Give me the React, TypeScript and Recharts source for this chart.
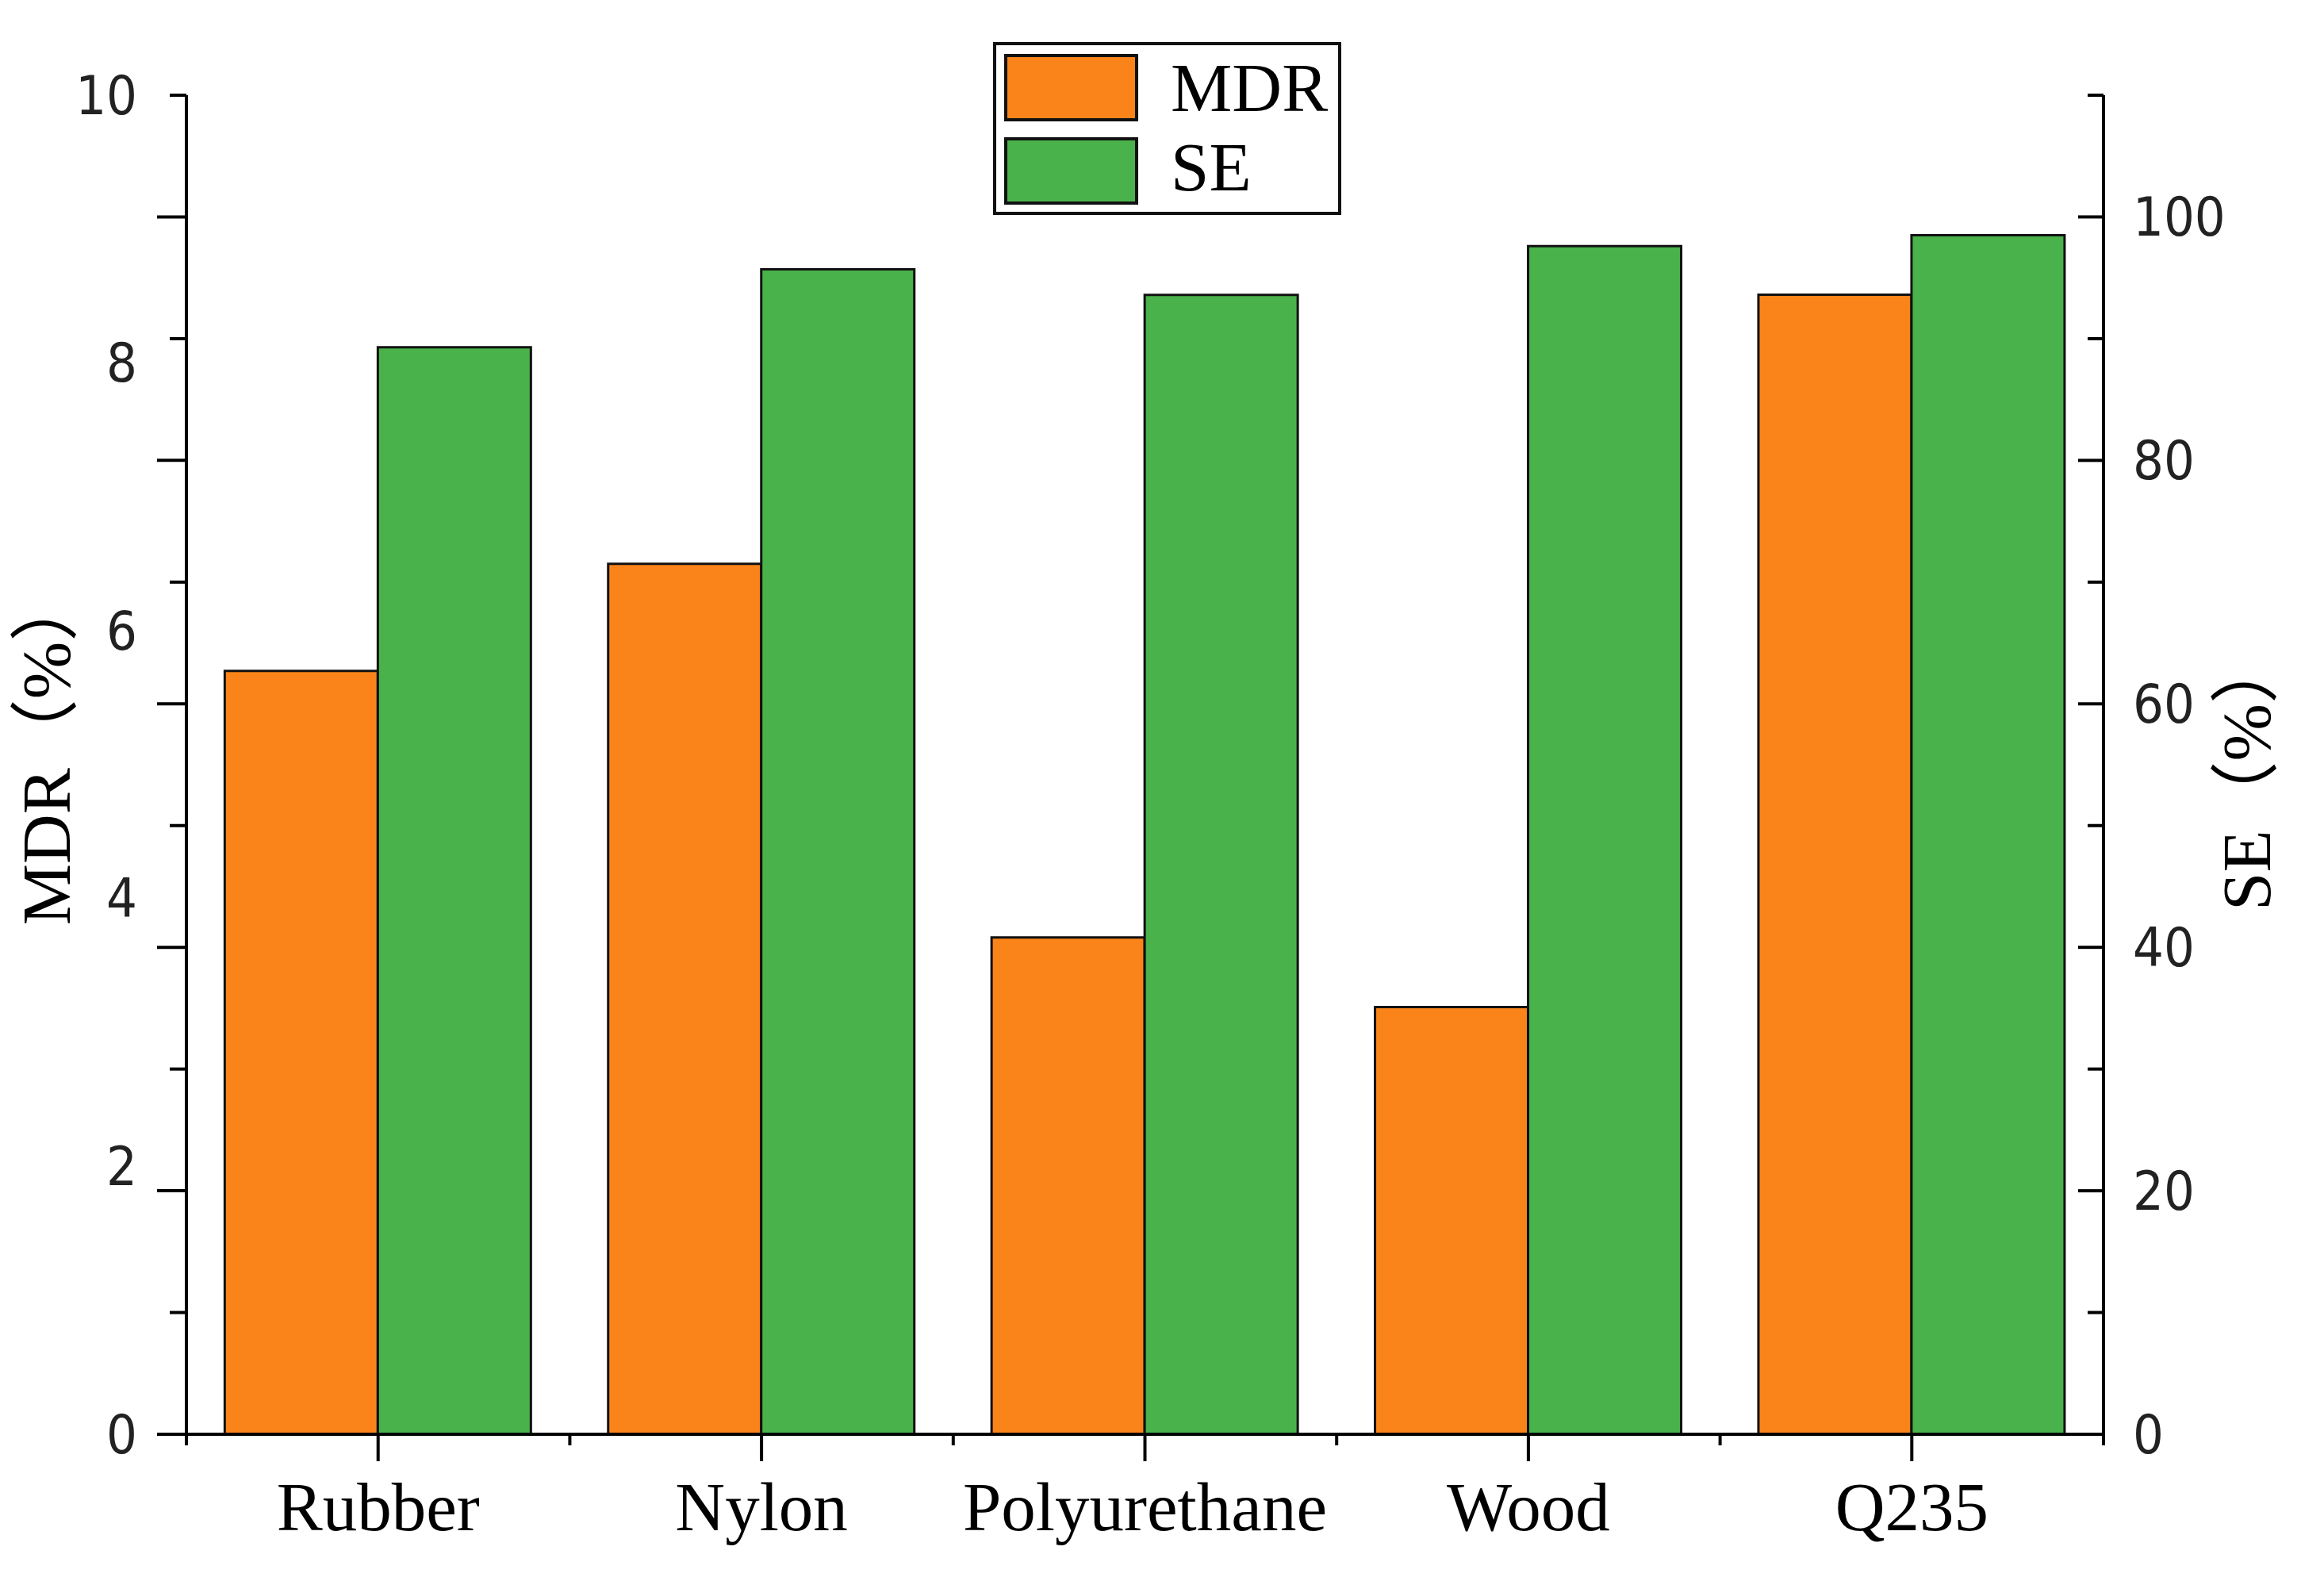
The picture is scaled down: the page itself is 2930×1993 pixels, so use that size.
import React from 'react';
import { BarChart, Bar, XAxis, YAxis, Legend, Label } from 'recharts';

const categories = ['Rubber', 'Nylon', 'Polyurethane', 'Wood', 'Q235'];
const mdrValues = [5.7, 6.5, 3.71, 3.19, 8.51];
const seValues = [89.3, 95.7, 93.6, 97.6, 98.5];
const mdrTicks = [0, 2, 4, 6, 8, 10];
const seTicks = [0, 10, 20, 30, 40, 50, 60, 70, 80, 90, 100, 110];
const seLabelValues = [0, 20, 40, 60, 80, 100];

const ORANGE = '#FA8419';
const GREEN = '#49B24A';
const SERIF = '"Liberation Serif", "Times New Roman", "Noto Sans CJK SC", serif';
const TICKFONT = '"Liberation Sans Narrow", "Arial Narrow", "DejaVu Sans Condensed", sans-serif';

const data = categories.map((name, i) => ({ name, MDR: mdrValues[i], SE: seValues[i] }));

const CategoryTick = (props: any) => {
  const { x, y, payload, index, width, visibleTicksCount } = props;
  const band = typeof width === 'number' && visibleTicksCount ? width / visibleTicksCount : 0;
  const axisY = y - 34;
  return (
    <g>
      {band > 0 ? (
        <line x1={x - band / 2} x2={x - band / 2} y1={axisY} y2={axisY + 14} stroke="#000" strokeWidth={4} />
      ) : null}
      {band > 0 && index === visibleTicksCount - 1 ? (
        <line x1={x + band / 2} x2={x + band / 2} y1={axisY} y2={axisY + 14} stroke="#000" strokeWidth={4} />
      ) : null}
      <text x={x} y={y + 87} textAnchor="middle" fontFamily={SERIF} fontSize={87} fill="#000">
        {payload.value}
      </text>
    </g>
  );
};

const LeftMarkTick = (props: any) => {
  const { x, y, payload } = props;
  const len = payload.value % 20 === 0 ? 37 : 21;
  return <line x1={x} x2={x - len} y1={y} y2={y} stroke="#000" strokeWidth={4} />;
};

const LeftLabelTick = (props: any) => {
  const { x, y, payload } = props;
  return (
    <text x={x - 61} y={y} textAnchor="end" dominantBaseline="central" fontFamily={TICKFONT} fontSize={68} fill="#222">
      {payload.value}
    </text>
  );
};

const RightTick = (props: any) => {
  const { x, y, payload } = props;
  const v = payload.value;
  const len = v % 20 === 0 ? 32 : 20;
  return (
    <g>
      <line x1={x} x2={x - len} y1={y} y2={y} stroke="#000" strokeWidth={4} />
      {seLabelValues.includes(v) ? (
        <text x={x + 37} y={y} textAnchor="start" dominantBaseline="central" fontFamily={TICKFONT} fontSize={68} fill="#222">
          {v}
        </text>
      ) : null}
    </g>
  );
};

const LeftTitle = (props: any) => {
  const vb = props.viewBox || {};
  const cx = vb.x + vb.width - 176;
  const cy = vb.y + vb.height / 2 - 20;
  return (
    <text x={cx} y={cy} transform={`rotate(-90, ${cx}, ${cy})`} textAnchor="middle" dominantBaseline="central" fontFamily={SERIF} fontSize={87} fill="#000">
      MDR（%）
    </text>
  );
};

const RightTitle = (props: any) => {
  const vb = props.viewBox || {};
  const cx = vb.x + 180;
  const cy = vb.y + vb.height / 2 + 10;
  return (
    <text x={cx} y={cy} transform={`rotate(-90, ${cx}, ${cy})`} textAnchor="middle" dominantBaseline="central" fontFamily={SERIF} fontSize={87} fill="#000">
      SE（%）
    </text>
  );
};

const LegendBox = () => {
  const swatch = (color: string, top: number) => ({
    position: 'absolute' as const,
    left: 10,
    top,
    width: 169,
    height: 85,
    boxSizing: 'border-box' as const,
    border: '4px solid #111',
    background: color,
  });
  const label = (top: number) => ({
    position: 'absolute' as const,
    left: 220,
    top,
    fontFamily: SERIF,
    fontSize: 87,
    lineHeight: '87px',
    color: '#000',
    whiteSpace: 'nowrap' as const,
  });
  return (
    <div style={{ position: 'relative', width: 439, height: 218, boxSizing: 'border-box', border: '4px solid #111', background: '#fff' }}>
      <div style={swatch(ORANGE, 11)} />
      <div style={label(10)}>MDR</div>
      <div style={swatch(GREEN, 116)} />
      <div style={label(110)}>SE</div>
    </div>
  );
};

export default function App() {
  return (
    <div style={{ width: 2930, height: 1993, background: '#fff' }}>
      <style>{`body{margin:0;background:#fff}`}</style>
      <BarChart
        width={2930}
        height={1993}
        data={data}
        margin={{ top: 120, right: 277, bottom: 184, left: 233 }}
        barCategoryGap="10%"
        barGap={0}
      >
        <XAxis
          xAxisId="c"
          dataKey="name"
          height={1}
          stroke="#000"
          axisLine={{ stroke: '#000', strokeWidth: 4 }}
          tickLine={{ stroke: '#000', strokeWidth: 4 }}
          tickSize={34}
          tickMargin={0}
          tick={CategoryTick}
          interval={0}
        />
        <YAxis
          yAxisId="lm"
          orientation="left"
          type="number"
          domain={[0, 110]}
          ticks={seTicks}
          allowDataOverflow
          width={1}
          axisLine={{ stroke: '#000', strokeWidth: 4 }}
          tickLine={false}
          tickSize={0}
          tickMargin={0}
          tick={LeftMarkTick}
          interval={0}
        />
        <YAxis
          yAxisId="m"
          orientation="left"
          type="number"
          domain={[0, 10]}
          ticks={mdrTicks}
          allowDataOverflow
          width={1}
          axisLine={false}
          tickLine={false}
          tickSize={0}
          tickMargin={0}
          tick={LeftLabelTick}
          interval={0}
        >
          <Label content={LeftTitle} />
        </YAxis>
        <YAxis
          yAxisId="s"
          orientation="right"
          type="number"
          domain={[0, 110]}
          ticks={seTicks}
          allowDataOverflow
          width={1}
          axisLine={{ stroke: '#000', strokeWidth: 4 }}
          tickLine={false}
          tickSize={0}
          tickMargin={0}
          tick={RightTick}
          interval={0}
        >
          <Label content={RightTitle} />
        </YAxis>
        <Legend
          layout="vertical"
          align="center"
          verticalAlign="middle"
          wrapperStyle={{ left: 1252, top: 53, width: 439, height: 218 }}
          content={LegendBox}
        />
        <Bar dataKey="MDR" xAxisId="c" yAxisId="m" fill={ORANGE} stroke="#111" strokeWidth={3} isAnimationActive={false} />
        <Bar dataKey="SE" xAxisId="c" yAxisId="s" fill={GREEN} stroke="#111" strokeWidth={3} isAnimationActive={false} />
      </BarChart>
    </div>
  );
}
